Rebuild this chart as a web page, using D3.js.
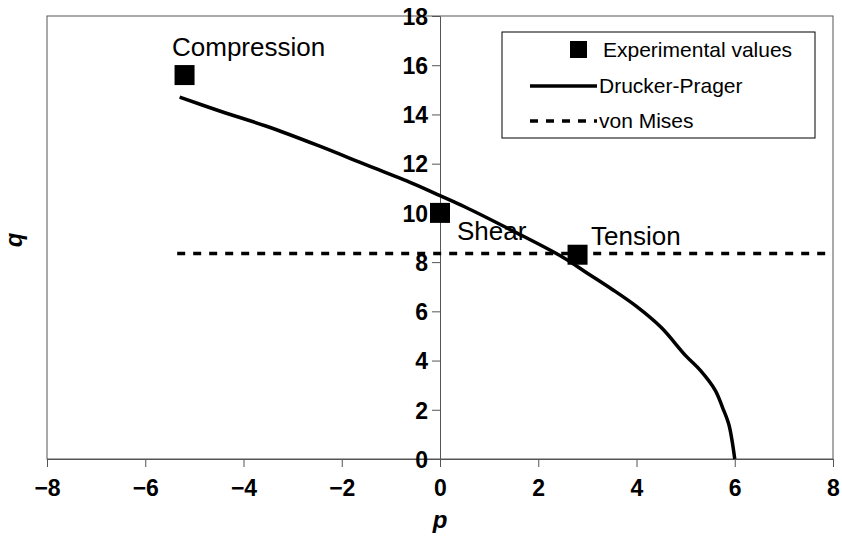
<!DOCTYPE html>
<html><head><meta charset="utf-8">
<script src="https://cdn.jsdelivr.net/npm/d3@7/dist/d3.min.js"></script>
<style>body{margin:0;background:#fff}svg{display:block;font-family:"Liberation Sans",Arial,sans-serif}</style>
</head><body><svg id="c" width="842" height="541"></svg>
<script>
const xTicks = [-8,-6,-4,-2,0,2,4,6,8];
const yTicks = [0,2,4,6,8,10,12,14,16,18];
const expLabels = ["Compression","Shear","Tension"];
const expP = [-5.2, 0, 2.8];
const expQ = [15.6, 10.0, 8.3];
const dpP = [-5.3,-4.5,-3.5,-2.5,-1.5,-0.5,0,0.5,1.5,2.5,3.0,3.5,4.0,4.5,5.0,5.3,5.6,5.75,5.88,6.0];
const dpQ = [14.7,14.15,13.5,12.75,11.95,11.15,10.7,10.25,9.25,8.2,7.55,6.9,6.2,5.35,4.2,3.6,2.8,2.1,1.4,0];
const vmP = [-5.35, 7.9];
const vmQ = [8.35, 8.35];
const legendNames = ["Experimental values","Drucker-Prager","von Mises"];

const svg = d3.select("#c");
const L=47, R=833, T=16, B=459;
const x = d3.scaleLinear().domain([-8,8]).range([L,R]);
const y = d3.scaleLinear().domain([0,18]).range([B,T]);

svg.append("rect").attr("x",L).attr("y",T).attr("width",R-L).attr("height",B-T)
  .attr("fill","none").attr("stroke","#555").attr("stroke-width",1);

const fs = 23;
const xa = svg.append("g").attr("transform",`translate(0,${y(0)})`)
  .call(d3.axisBottom(x).tickValues(xTicks).tickSize(8).tickPadding(13).tickFormat(d=>d<0?"\u2212"+(-d):d));
const ya = svg.append("g").attr("transform",`translate(${x(0)},0)`)
  .call(d3.axisLeft(y).tickValues(yTicks).tickSize(8).tickPadding(4));
[xa,ya].forEach(g=>{
  g.select(".domain").attr("stroke","#555");
  g.selectAll(".tick line").attr("stroke","#555");
  g.selectAll("text").attr("font-size",fs).attr("font-weight","bold").attr("fill","#000").attr("font-family","Liberation Sans, Arial, sans-serif");
});
ya.selectAll(".tick text").attr("dy","0.36em");

svg.append("text").attr("x",x(0)).attr("y",528).attr("text-anchor","middle")
  .attr("font-size",24).attr("font-weight","bold").attr("font-style","italic").text("p");
svg.append("text").attr("transform","translate(22,240) rotate(-90)").attr("text-anchor","middle")
  .attr("font-size",24).attr("font-weight","bold").attr("font-style","italic").text("q");

const line = d3.line().x(d=>x(d[0])).y(d=>y(d[1])).curve(d3.curveCatmullRom);
svg.append("path").datum(vmP.map((p,i)=>[p,vmQ[i]])).attr("d",d3.line().x(d=>x(d[0])).y(d=>y(d[1])))
  .attr("fill","none").attr("stroke","#000").attr("stroke-width",3.5).attr("stroke-dasharray","8,8");
svg.append("path").datum(dpP.map((p,i)=>[p,dpQ[i]])).attr("d",line)
  .attr("fill","none").attr("stroke","#000").attr("stroke-width",3.5).attr("stroke-linejoin","round");

const s = 20;
expP.forEach((p,i)=>{
  svg.append("rect").attr("x",x(p)-s/2).attr("y",y(expQ[i])-s/2).attr("width",s).attr("height",s).attr("fill","#000");
});
const lblPos = [[172,56],[457,240],[591,245]];
expLabels.forEach((t,i)=>{
  svg.append("text").attr("x",lblPos[i][0]).attr("y",lblPos[i][1])
    .attr("font-size",26).text(t);
});

// legend
const lg = svg.append("g");
lg.append("rect").attr("x",502).attr("y",32).attr("width",313).attr("height",106)
  .attr("fill","#fff").attr("stroke","#000").attr("stroke-width",1);
lg.append("rect").attr("x",570).attr("y",41).attr("width",17).attr("height",17).attr("fill","#000");
lg.append("line").attr("x1",530).attr("x2",597).attr("y1",86).attr("y2",86).attr("stroke","#000").attr("stroke-width",3.5);
lg.append("line").attr("x1",530).attr("x2",597).attr("y1",121).attr("y2",121).attr("stroke","#000").attr("stroke-width",3.5).attr("stroke-dasharray","8,8");
const lty=[57,93,128], ltx=[603,599,599];
legendNames.forEach((t,i)=>{
  lg.append("text").attr("x",ltx[i]).attr("y",lty[i]).attr("font-size",21).text(t);
});
</script></body></html>
